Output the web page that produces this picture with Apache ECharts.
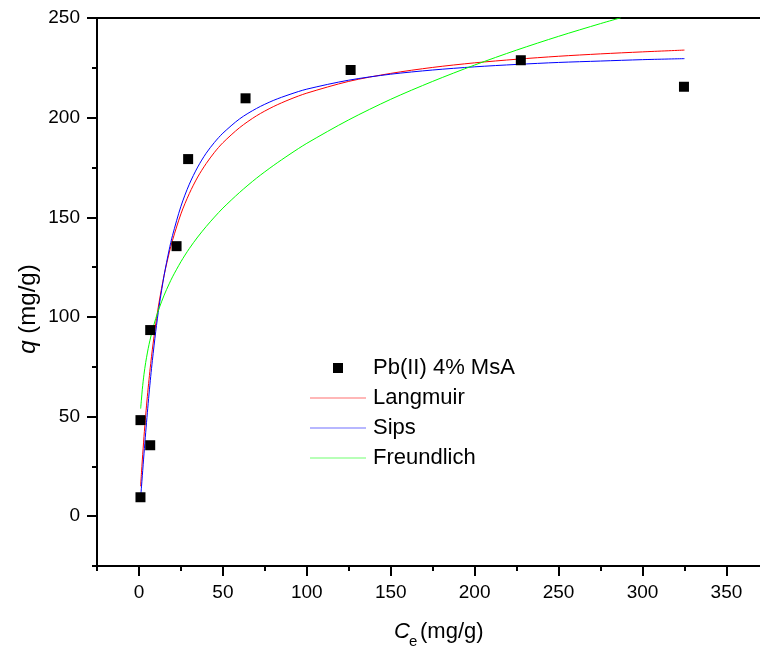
<!DOCTYPE html>
<html>
<head>
<meta charset="utf-8">
<script src="https://cdn.jsdelivr.net/npm/echarts@6/dist/echarts.min.js"></script>
<style>
html,body{margin:0;padding:0;background:#fff;}
#chart{width:760px;height:646px;}
</style>
</head>
<body>
<div id="chart"></div>
<script>
// Experimental points
const ceData = [0.9, 0.9, 6.7, 6.7, 22.4, 29.3, 63.5, 126.1, 227.5, 324.7];
const qData  = [9.5, 48.2, 35.6, 93.4, 135.5, 179.2, 209.7, 223.9, 228.8, 215.5];

// Fitted curves
const fitCe     = [1, 1.5, 2, 3, 4, 5, 6, 7, 8, 10, 12, 15, 18, 20, 25, 30, 35, 40, 45, 50, 60, 70, 80, 90, 100, 125, 150, 175, 200, 225, 250, 275, 300, 325];
const langmuirQ = [15.0, 21.8, 28.2, 40.0, 50.6, 60.1, 68.7, 76.6, 83.8, 96.5, 107.4, 121.0, 132.1, 138.5, 151.7, 161.9, 170.2, 176.9, 182.6, 187.4, 195.0, 200.9, 205.5, 209.2, 212.3, 218.2, 222.2, 225.2, 227.5, 229.3, 230.8, 232.0, 233.0, 233.9];
const sipsQ     = [9.3, 14.7, 20.3, 31.3, 41.9, 51.9, 61.3, 70.1, 78.2, 92.7, 105.3, 120.9, 133.7, 140.9, 155.5, 166.6, 175.2, 182.1, 187.6, 192.2, 199.4, 204.6, 208.6, 211.7, 214.3, 218.8, 221.8, 223.9, 225.5, 226.7, 227.7, 228.4, 229.1, 229.6];
const freundCe  = [1, 1.5, 2, 3, 4, 5, 6, 7, 8, 10, 12, 15, 18, 20, 25, 30, 35, 40, 45, 50, 60, 70, 80, 90, 100, 125, 150, 175, 200, 225, 250, 275, 287];
const freundQ   = [54, 58.8, 63.7, 71.2, 77.1, 81.9, 86.2, 89.9, 93.3, 99.2, 104.3, 110.9, 116.6, 120.1, 127.7, 134.3, 140.1, 145.3, 150.1, 154.6, 162.5, 169.6, 175.9, 181.7, 187.1, 198.9, 209.2, 218.2, 226.4, 233.9, 240.8, 247.2, 250.1];

// Ticks
const xMajor = [0, 50, 100, 150, 200, 250, 300, 350];
const xMinor = [-25, 25, 75, 125, 175, 225, 275, 325];
const yMajor = [0, 50, 100, 150, 200, 250];
const yMinor = [-25, 25, 75, 125, 175, 225];

const seriesNames = ['Pb(II) 4% MsA', 'Langmuir', 'Sips', 'Freundlich'];

const FONT = "'Liberation Sans', Arial, sans-serif";
const pairs = (xs, ys) => xs.map((x, i) => [x, ys[i]]);

const chart = echarts.init(document.getElementById('chart'), null, {renderer: 'canvas'});
const gridBox = {left: 97, top: 18, right: 0, bottom: 80};
const axLine = {show: true, onZero: false, lineStyle: {color: '#000', width: 2}};
const noLine = {show: false, onZero: false};
const noSplit = {show: false};
const lineIcon = 'path://M0,0h56v1.2h-56z';

chart.setOption({
  animation: false,
  backgroundColor: '#fff',
  grid: [Object.assign({}, gridBox), Object.assign({}, gridBox)],
  xAxis: [
    {type: 'value', gridIndex: 0, position: 'bottom', min: -25, max: 370,
     axisLine: axLine,
     axisTick: {show: true, customValues: xMajor, length: 10, lineStyle: {color: '#000', width: 2}},
     axisLabel: {customValues: xMajor, fontSize: 19, fontFamily: FONT, color: '#000', margin: 17},
     splitLine: noSplit},
    {type: 'value', gridIndex: 0, position: 'top', min: -25, max: 370,
     axisLine: axLine, axisTick: {show: false}, axisLabel: {show: false}, splitLine: noSplit},
    {type: 'value', gridIndex: 1, position: 'bottom', min: -25, max: 370,
     axisLine: noLine,
     axisTick: {show: true, customValues: xMinor, length: 5, lineStyle: {color: '#000', width: 2}},
     axisLabel: {show: false}, splitLine: noSplit}
  ],
  yAxis: [
    {type: 'value', gridIndex: 0, position: 'left', min: -25, max: 250,
     axisLine: axLine,
     axisTick: {show: true, customValues: yMajor, length: 10, lineStyle: {color: '#000', width: 2}},
     axisLabel: {customValues: yMajor, fontSize: 19, fontFamily: FONT, color: '#000', margin: 17},
     splitLine: noSplit},
    {type: 'value', gridIndex: 1, position: 'left', min: -25, max: 250,
     axisLine: noLine,
     axisTick: {show: true, customValues: yMinor, length: 5, lineStyle: {color: '#000', width: 2}},
     axisLabel: {show: false}, splitLine: noSplit}
  ],
  legend: {
    orient: 'vertical', left: 310, top: 357, padding: 0,
    itemWidth: 56, itemHeight: 10, itemGap: 8,
    textStyle: {fontSize: 22, fontFamily: FONT, color: '#000', padding: [0, 0, 0, 2]},
    data: [
      {name: seriesNames[0], icon: 'path://M0,0h10v10h-10z', itemStyle: {color: '#000', opacity: 1}},
      {name: seriesNames[1], icon: lineIcon, itemStyle: {color: '#ff7070'}},
      {name: seriesNames[2], icon: lineIcon, itemStyle: {color: '#7070ff'}},
      {name: seriesNames[3], icon: lineIcon, itemStyle: {color: '#70ff70'}}
    ]
  },
  series: [
    {name: seriesNames[1], type: 'line', xAxisIndex: 0, yAxisIndex: 0, smooth: 0.3, symbol: 'none',
     data: pairs(fitCe, langmuirQ), lineStyle: {color: '#ff0000', width: 1}, itemStyle: {color: '#ff0000'}, z: 2},
    {name: seriesNames[2], type: 'line', xAxisIndex: 0, yAxisIndex: 0, smooth: 0.3, symbol: 'none',
     data: pairs(fitCe, sipsQ), lineStyle: {color: '#0000ff', width: 1}, itemStyle: {color: '#0000ff'}, z: 2},
    {name: seriesNames[3], type: 'line', xAxisIndex: 0, yAxisIndex: 0, smooth: 0.3, symbol: 'none',
     data: pairs(freundCe, freundQ), lineStyle: {color: '#00ff00', width: 1}, itemStyle: {color: '#00ff00'}, z: 2},
    {name: seriesNames[0], type: 'scatter', xAxisIndex: 0, yAxisIndex: 0, symbol: 'rect', symbolSize: 10,
     data: pairs(ceData, qData), itemStyle: {color: '#000', opacity: 1}, z: 5}
  ],
  graphic: [
    {type: 'text', x: 28, y: 309, rotation: Math.PI / 2,
     style: {text: '{i|q} (mg/g)', align: 'center', verticalAlign: 'middle', fill: '#000',
             font: '24px ' + FONT,
             rich: {i: {fontStyle: 'italic', fontSize: 24, fontFamily: FONT, fill: '#000'}}}},
    {type: 'text', x: 394, y: 632,
     style: {text: 'C', align: 'left', verticalAlign: 'middle', fill: '#000', font: 'italic 22px ' + FONT}},
    {type: 'text', x: 409, y: 642,
     style: {text: 'e', align: 'left', verticalAlign: 'middle', fill: '#000', font: '15px ' + FONT}},
    {type: 'text', x: 420, y: 632,
     style: {text: '(mg/g)', align: 'left', verticalAlign: 'middle', fill: '#000', font: '22px ' + FONT}}
  ]
});
</script>
</body>
</html>
